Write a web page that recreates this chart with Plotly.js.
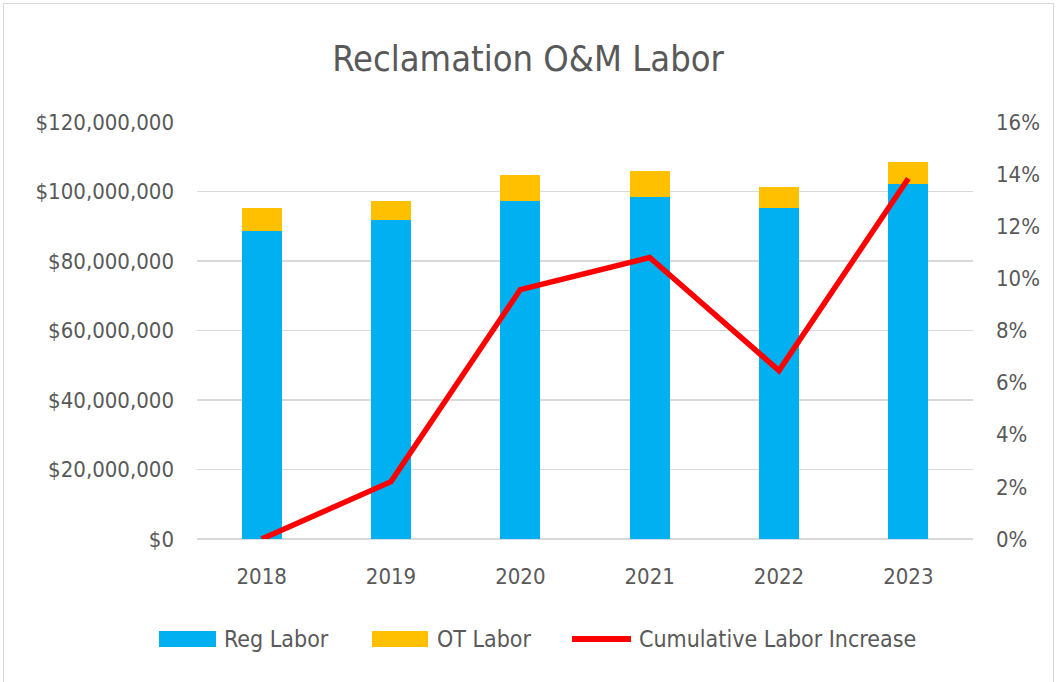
<!DOCTYPE html>
<html>
<head>
<meta charset="utf-8">
<script src="https://cdn.plot.ly/plotly-3.0.1.min.js"></script>
<style>
  html, body { margin: 0; padding: 0; background: #fff; }
  #wrap { position: relative; width: 1056px; height: 682px; overflow: hidden; }
  #chart { width: 1056px; height: 682px; }
  #frame { position: absolute; left: 3px; top: 3px; width: 1049px; height: 700px; border: 1px solid #D9D9D9; pointer-events: none; }
</style>
</head>
<body>
<div id="wrap"><div id="chart"></div><div id="frame"></div></div>
<script>
const years = ['2018', '2019', '2020', '2021', '2022', '2023'];
const regLabor = [88.7e6, 91.8e6, 97.4e6, 98.3e6, 95.2e6, 102.2e6];
const otLabor = [6.5e6, 5.6e6, 7.4e6, 7.7e6, 6.1e6, 6.4e6];
const cumIncrease = [0.0, 0.022, 0.0957, 0.108, 0.0646, 0.1383];

const leftTicks = [0, 20e6, 40e6, 60e6, 80e6, 100e6, 120e6];
const leftTickText = ['$0', '$20,000,000', '$40,000,000', '$60,000,000', '$80,000,000', '$100,000,000', '$120,000,000'];
const rightTicks = [0, 0.02, 0.04, 0.06, 0.08, 0.10, 0.12, 0.14, 0.16];
const rightTickText = ['0%', '2%', '4%', '6%', '8%', '10%', '12%', '14%', '16%'];
const seriesNames = ['Reg Labor', 'OT Labor', 'Cumulative Labor Increase'];
const seriesColors = ['#00B0F0', '#FFC000', '#FF0000'];

const FONT = '"DejaVu Sans Condensed", "Liberation Sans Narrow", sans-serif';
const GREY = '#595959';

// plot area in pixels
const M = { l: 197, r: 83, t: 122, b: 143 };
const W = 1056, H = 682;
const PW = W - M.l - M.r, PH = H - M.t - M.b;
const px = x => (x - M.l) / PW;
const py = y => (H - M.b - y) / PH;

const traces = [
  { type: 'bar', name: seriesNames[0], x: years, y: regLabor,
    marker: { color: seriesColors[0] }, yaxis: 'y' },
  { type: 'bar', name: seriesNames[1], x: years, y: otLabor,
    marker: { color: seriesColors[1] }, yaxis: 'y' },
  { type: 'scatter', mode: 'lines', name: seriesNames[2], x: years, y: cumIncrease,
    line: { color: seriesColors[2], width: 5.5 }, yaxis: 'y2' }
];

// custom legend (Excel-style wide swatches)
const legendY = 639;
const shapes = [
  { type: 'rect', xref: 'paper', yref: 'paper', x0: px(159), x1: px(216), y0: py(631), y1: py(647),
    fillcolor: seriesColors[0], line: { width: 0 } },
  { type: 'rect', xref: 'paper', yref: 'paper', x0: px(372), x1: px(428), y0: py(631), y1: py(647),
    fillcolor: seriesColors[1], line: { width: 0 } },
  { type: 'line', xref: 'paper', yref: 'paper', x0: px(572), x1: px(631), y0: py(legendY), y1: py(legendY),
    line: { color: seriesColors[2], width: 6 } }
];
const legendTextX = [222, 435, 637];
const annotations = seriesNames.map((n, i) => ({
  text: n, xref: 'paper', yref: 'paper', x: px(legendTextX[i]), y: py(legendY),
  xanchor: 'left', yanchor: 'middle', showarrow: false,
  font: { family: FONT, size: 23, color: GREY }
}));

const layout = {
  width: W, height: H,
  margin: M,
  paper_bgcolor: '#fff', plot_bgcolor: '#fff',
  barmode: 'stack',
  bargap: 0.69,
  font: { family: FONT, color: GREY, size: 22 },
  title: { text: 'Reclamation O&M Labor', x: 0.5, xanchor: 'center', y: 0.915, yanchor: 'middle',
           font: { family: FONT, size: 36, color: GREY } },
  xaxis: { type: 'category', showgrid: false, showline: false, ticks: '', zeroline: false,
           tickfont: { size: 22, color: GREY }, ticklabelstandoff: 22 },
  yaxis: { range: [0, 120e6], tickvals: leftTicks, ticktext: leftTickText, showgrid: true,
           gridcolor: '#D9D9D9', gridwidth: 1.5, zeroline: true, zerolinecolor: '#D9D9D9', zerolinewidth: 1.5,
           showline: false, ticks: '', tickfont: { size: 22, color: GREY }, ticklabelstandoff: 22 },
  yaxis2: { range: [0, 0.16], tickvals: rightTicks, ticktext: rightTickText, overlaying: 'y', side: 'right',
            showgrid: false, zeroline: false, showline: false, ticks: '',
            tickfont: { size: 22, color: GREY }, ticklabelstandoff: 22 },
  showlegend: false,
  shapes: shapes,
  annotations: annotations
};

Plotly.newPlot('chart', traces, layout, { displayModeBar: false, staticPlot: true });
</script>
</body>
</html>
